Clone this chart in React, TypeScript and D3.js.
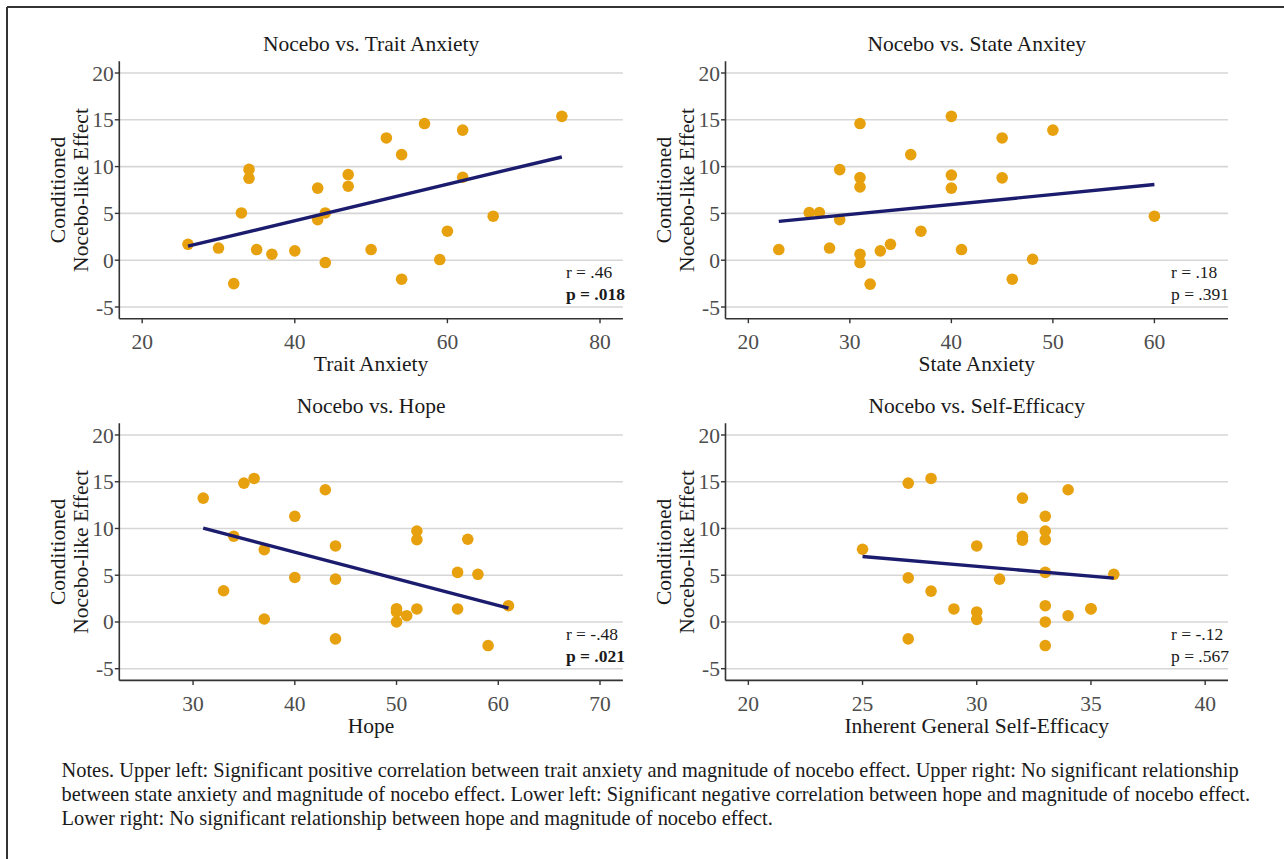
import React, { useLayoutEffect, useRef, useState } from 'react';
import * as d3 from 'd3';

// ---------- data ----------
const traitX = [26, 30, 32, 33, 34, 34, 35, 37, 40, 43, 43, 44, 44, 47, 47, 50, 52, 54, 54, 57, 59, 60, 62, 62, 66, 75];
const traitY = [1.7, 1.3, -2.5, 5.05, 9.7, 8.75, 1.14, 0.64, 1.0, 7.7, 4.34, 5.05, -0.25, 9.15, 7.9, 1.14, 13.06, 11.28, -2.03, 14.6, 0.07, 3.1, 8.86, 13.9, 4.7, 15.37];

const stateX = [23, 26, 27, 28, 29, 29, 31, 31, 31, 31, 31, 32, 33, 34, 36, 37, 40, 40, 40, 41, 45, 45, 46, 48, 50, 60];
const stateY = [1.14, 5.09, 5.09, 1.3, 9.68, 4.34, 14.6, 8.83, 7.83, 0.64, -0.25, -2.56, 1.0, 1.7, 11.28, 3.1, 15.37, 9.1, 7.7, 1.14, 13.06, 8.8, -2.03, 0.1, 13.9, 4.7];

const hopeX = [31, 33, 34, 35, 36, 37, 37, 40, 40, 43, 44, 44, 44, 50, 50, 50, 51, 52, 52, 52, 56, 56, 57, 58, 59, 61];
const hopeY = [13.25, 3.34, 9.17, 14.85, 15.35, 7.74, 0.32, 11.3, 4.76, 14.14, 8.13, 4.58, -1.81, 1.42, 1.07, 0, 0.67, 9.73, 8.8, 1.39, 5.3, 1.39, 8.85, 5.1, -2.52, 1.74];

const effX = [25, 27, 27, 27, 28, 28, 29, 30, 30, 30, 31, 32, 32, 32, 33, 33, 33, 33, 33, 33, 33, 34, 34, 35, 35, 36];
const effY = [7.78, 14.85, 4.72, -1.81, 15.35, 3.3, 1.39, 8.13, 1.07, 0.28, 4.58, 13.25, 9.17, 8.74, 11.3, 9.73, 8.8, 5.3, 1.74, 0, -2.52, 14.14, 0.67, 1.39, 1.42, 5.1];

const yTicks = [-5, 0, 5, 10, 15, 20];
const traitTicks = [20, 40, 60, 80];
const stateTicks = [20, 30, 40, 50, 60];
const hopeTicks = [30, 40, 50, 60, 70];
const effTicks = [20, 25, 30, 35, 40];

const titles = ['Nocebo vs. Trait Anxiety', 'Nocebo vs. State Anxitey', 'Nocebo vs. Hope', 'Nocebo vs. Self-Efficacy'];
const xTitles = ['Trait Anxiety', 'State Anxiety', 'Hope', 'Inherent General Self-Efficacy'];
const yTitleLines = ['Conditioned', 'Nocebo-like Effect'];
const rLabels = ['r = .46', 'r = .18', 'r = -.48', 'r = -.12'];
const pLabels = ['p = .018', 'p = .391', 'p = .021', 'p = .567'];
const pBold = [true, false, true, false];

const notes = [
  'Notes. Upper left: Significant positive correlation between trait anxiety and magnitude of nocebo effect. Upper right: No significant relationship',
  'between state anxiety and magnitude of nocebo effect. Lower left: Significant negative correlation between hope and magnitude of nocebo effect.',
  'Lower right: No significant relationship between hope and magnitude of nocebo effect.',
];

// ---------- layout ----------
const W = 1284;
const H = 859;
const colLeft = [119.3, 725.5];
const colRight = [622.9, 1228];
const rowTop = [61.3, 423.3];
const rowBottom = [318.7, 680.4];
const FONT = '"Liberation Serif", "Times New Roman", Times, serif';
const POINT = '#E8A10E';
const LINE = '#1C1C6E';
const GRID = '#D6D6D6';
const AXIS = '#333333';
const TICKTXT = '#4D4D4D';

const expand = (d: number[]) => {
  const pad = (d[1] - d[0]) * 0.05;
  return [d[0] - pad, d[1] + pad];
};

function fit(xs: number[], ys: number[]) {
  const mx = d3.mean(xs) as number;
  const my = d3.mean(ys) as number;
  let sxy = 0;
  let sxx = 0;
  xs.forEach((x, i) => {
    sxy += (x - mx) * (ys[i] - my);
    sxx += (x - mx) * (x - mx);
  });
  const b = sxy / sxx;
  const a = my - b * mx;
  const [x0, x1] = d3.extent(xs) as [number, number];
  return [
    [x0, a + b * x0],
    [x1, a + b * x1],
  ] as [number, number][];
}

const panels = [
  { xs: traitX, ys: traitY, ticks: traitTicks, domain: [20, 80], row: 0, col: 0 },
  { xs: stateX, ys: stateY, ticks: stateTicks, domain: [20, 65], row: 0, col: 1 },
  { xs: hopeX, ys: hopeY, ticks: hopeTicks, domain: [25, 70], row: 1, col: 0 },
  { xs: effX, ys: effY, ticks: effTicks, domain: [20, 40], row: 1, col: 1 },
];

function Panel({ p, i }: { p: any; i: number }) {
  const left = colLeft[p.col];
  const right = colRight[p.col];
  const top = rowTop[p.row];
  const bottom = rowBottom[p.row];
  const x = d3.scaleLinear().domain(expand(p.domain)).range([left, right]);
  const y = d3.scaleLinear().domain(expand([-5, 20])).range([bottom, top]);
  const line = d3.line<[number, number]>().x((d) => x(d[0])).y((d) => y(d[1]));
  const fitted = fit(p.xs, p.ys);
  const cx = (left + right) / 2;
  const cy = (top + bottom) / 2;
  return (
    <g>
      {yTicks.map((t) => (
        <line key={'g' + t} x1={left} x2={right} y1={y(t)} y2={y(t)} stroke={GRID} strokeWidth={1.6} />
      ))}
      {p.xs.map((xv: number, k: number) => (
        <circle key={'p' + k} cx={x(xv)} cy={y(p.ys[k])} r={5.8} fill={POINT} />
      ))}
      <path d={line(fitted) || ''} stroke={LINE} strokeWidth={3.4} fill="none" />
      <line x1={left} x2={left} y1={top} y2={bottom} stroke={AXIS} strokeWidth={1.6} />
      <line x1={left} x2={right} y1={bottom} y2={bottom} stroke={AXIS} strokeWidth={1.6} />
      {yTicks.map((t) => (
        <g key={'yt' + t}>
          <line x1={left - 4.5} x2={left} y1={y(t)} y2={y(t)} stroke={AXIS} strokeWidth={1.4} />
          <text x={left - 5.5} y={y(t)} dy="0.35em" textAnchor="end" fontSize={21.5} fill={TICKTXT}>
            {t}
          </text>
        </g>
      ))}
      {p.ticks.map((t: number) => (
        <g key={'xt' + t}>
          <line x1={x(t)} x2={x(t)} y1={bottom} y2={bottom + 4.5} stroke={AXIS} strokeWidth={1.4} />
          <text x={x(t)} y={bottom + 30.6} textAnchor="middle" fontSize={21.5} fill={TICKTXT}>
            {t}
          </text>
        </g>
      ))}
      <text x={cx} y={top - 10.3} textAnchor="middle" fontSize={21.5} fill="#1a1a1a">
        {titles[i]}
      </text>
      <text x={cx} y={bottom + 52.5} textAnchor="middle" fontSize={21.5} fill="#1a1a1a">
        {xTitles[i]}
      </text>
      {yTitleLines.map((s, k) => {
        const bx = left - 54.3 + k * 23;
        return (
          <text
            key={'ytl' + k}
            transform={`translate(${bx},${cy}) rotate(-90)`}
            textAnchor="middle"
            fontSize={21.5}
            fill="#1a1a1a"
          >
            {s}
          </text>
        );
      })}
      <text x={right - 57} y={y(-1.9)} fontSize={17.5} fill="#1a1a1a">
        {rLabels[i]}
      </text>
      <text x={right - 57} y={y(-4.25)} fontSize={17.5} fill="#1a1a1a" fontWeight={pBold[i] ? 'bold' : 'normal'}>
        {pLabels[i]}
      </text>
    </g>
  );
}

export default function App() {
  const ref = useRef<SVGTextElement>(null);
  const [noteSize, setNoteSize] = useState(18.5);
  useLayoutEffect(() => {
    if (ref.current) {
      const w = ref.current.getComputedTextLength();
      const target = 1238 - 61.5;
      if (w > 0 && Math.abs(w - target) > 1) {
        setNoteSize((s) => (s * target) / w);
      }
    }
  }, [noteSize]);
  return (
    <svg
      width={W}
      height={H}
      viewBox={`0 0 ${W} ${H}`}
      style={{ position: 'absolute', left: 0, top: 0, display: 'block', background: '#fff' }}
      fontFamily={FONT}
    >
      <rect x={0} y={0} width={W} height={H} fill="#fff" />
      <line x1={7} x2={W} y1={7} y2={7} stroke="#333" strokeWidth={2} />
      <line x1={7} x2={7} y1={7} y2={H} stroke="#333" strokeWidth={2} />
      {panels.map((p, i) => (
        <Panel key={i} p={p} i={i} />
      ))}
      {notes.map((s, k) => (
        <text key={'n' + k} ref={k === 0 ? ref : undefined} x={61.5} y={777 + k * 24} fontSize={noteSize} fill="#1a1a1a">
          {s}
        </text>
      ))}
    </svg>
  );
}
